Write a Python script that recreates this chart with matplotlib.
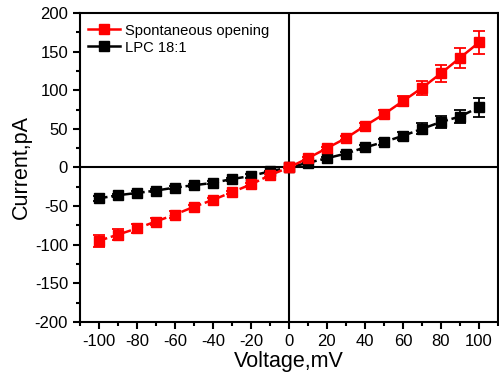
import matplotlib
matplotlib.use("Agg")
import matplotlib.pyplot as plt
import numpy as np
from matplotlib.ticker import MultipleLocator
from matplotlib.lines import Line2D

plt.rcParams['font.family'] = ['Liberation Sans', 'DejaVu Sans']
plt.rcParams['axes.unicode_minus'] = False

voltage = [-100, -90, -80, -70, -60, -50, -40, -30, -20, -10, 0, 10, 20, 30, 40, 50, 60, 70, 80, 90, 100]
spont = [-95, -87, -79, -70, -61, -51, -42, -32, -22, -10, 0, 12, 25, 38, 54, 69, 86, 103, 122, 142, 162]
spont_err = [8, 7, 6, 5, 4, 3, 3, 2, 2, 2, 1, 2, 2, 3, 3, 5, 7, 9, 11, 13, 15]
lpc = [-40, -36, -33, -30, -26, -23, -20, -15, -11, -5, 0, 6, 12, 18, 26, 33, 41, 50, 59, 66, 78]
lpc_err = [3, 2, 2, 2, 2, 2, 2, 2, 2, 1, 1, 1, 2, 2, 3, 4, 5, 7, 8, 9, 12]

fig = plt.figure(figsize=(4.99, 3.85), dpi=100)
ax = fig.add_axes([0.160, 0.164, 0.838, 0.802])

v = np.array(voltage)
s = np.array(spont); se = np.array(spont_err)
l = np.array(lpc); le = np.array(lpc_err)
neg = v <= 0
pos = v >= 0

ax.axhline(0, color='black', lw=1.5, zorder=1)
ax.axvline(0, color='black', lw=1.5, zorder=1)

ax.errorbar(v, l, yerr=le, fmt='none', ecolor='black', elinewidth=1.3, capsize=4, capthick=1.3, zorder=3)
ax.plot(v, l, color='black', ls=(0, (3.5, 1.5)), lw=1.8, marker='s', ms=6.5, zorder=4)

ax.errorbar(v, s, yerr=se, fmt='none', ecolor='red', elinewidth=1.3, capsize=4, capthick=1.3, zorder=5)
ax.plot(v[neg], s[neg], color='red', ls=(0, (3.5, 1.5)), lw=1.8, marker='s', ms=6.5, zorder=6)
ax.plot(v[pos], s[pos], color='red', ls='-', lw=1.8, marker='s', ms=6.5, zorder=6)

handles = [Line2D([], [], color='red', lw=1.8, marker='s', ms=6.5),
           Line2D([], [], color='black', lw=1.8, marker='s', ms=6.5)]
ax.legend(handles, ['Spontaneous opening', 'LPC 18:1'], loc='upper left', frameon=False,
          fontsize=10.6, handlelength=2.2, handletextpad=0.35, labelspacing=0.2,
          borderaxespad=0.0, bbox_to_anchor=(0.005, 0.985))

ax.set_xlim(-110, 110)
ax.set_ylim(-200, 200)
ax.xaxis.set_major_locator(MultipleLocator(20))
ax.xaxis.set_minor_locator(MultipleLocator(10))
ax.yaxis.set_major_locator(MultipleLocator(50))
ax.yaxis.set_minor_locator(MultipleLocator(25))
ax.tick_params(which='both', direction='out', width=1.5, labelsize=12, top=False, right=False)
ax.tick_params(which='major', length=5)
ax.tick_params(which='minor', length=3)
for sp in ax.spines.values():
    sp.set_linewidth(1.5)

ax.set_xlabel('Voltage,mV', fontsize=15.5, labelpad=2)
ax.set_ylabel('Current,pA', fontsize=15.5, labelpad=2)

fig.savefig('out.png', dpi=100)
